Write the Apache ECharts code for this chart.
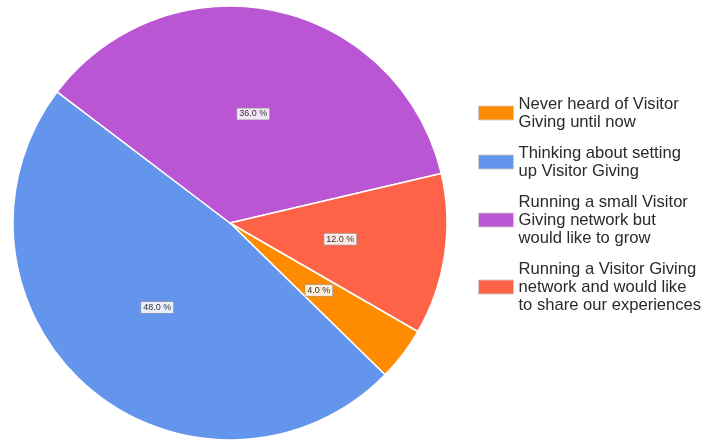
<!DOCTYPE html>
<html>
<head>
<meta charset="utf-8">
<script src="https://cdn.jsdelivr.net/npm/echarts@6/dist/echarts.min.js"></script>
<style>
  html, body { margin: 0; padding: 0; background: #ffffff; }
  #chart { width: 707px; height: 440px; }
</style>
</head>
<body>
<div id="chart"></div>
<script>
// Survey answers, share of respondents in percent
const categories = [
  'Never heard of Visitor\nGiving until now',
  'Thinking about setting\nup Visitor Giving',
  'Running a small Visitor\nGiving network but\nwould like to grow',
  'Running a Visitor Giving\nnetwork and would like\nto share our experiences'
];
const shares = [4.0, 48.0, 36.0, 12.0];
const sliceColors = ['#FF8C00', '#6495ED', '#BA55D3', '#FF6347'];

const chart = echarts.init(document.getElementById('chart'), null, { renderer: 'canvas' });

chart.setOption({
  backgroundColor: '#ffffff',
  animation: false,
  color: sliceColors,
  legend: {
    orient: 'vertical',
    left: 473,
    top: 90,
    itemWidth: 35,
    itemHeight: 14,
    itemGap: 13,
    icon: 'rect',
    itemStyle: { borderColor: 'rgba(215,200,200,0.9)', borderWidth: 1 },
    textStyle: {
      fontFamily: 'Liberation Sans, Arial, sans-serif',
      fontSize: 16.6,
      lineHeight: 18,
      color: '#2a2a2a'
    },
    data: categories
  },
  series: [{
    type: 'pie',
    center: [230, 223],
    radius: 217,
    startAngle: -30,
    clockwise: true,
    avoidLabelOverlap: false,
    itemStyle: { borderColor: '#ffffff', borderWidth: 1.5 },
    label: {
      show: true,
      position: 'inside',
      formatter: p => p.value.toFixed(1) + ' %',
      fontFamily: 'Liberation Sans, Arial, sans-serif',
      fontSize: 9,
      color: '#333333',
      backgroundColor: 'rgba(255,255,255,0.85)',
      borderColor: '#999999',
      borderWidth: 0.6,
      padding: [1, 2]
    },
    labelLine: { show: false },
    emphasis: { disabled: true },
    data: categories.map((name, i) => ({ name: name, value: shares[i] }))
  }]
});
</script>
</body>
</html>
